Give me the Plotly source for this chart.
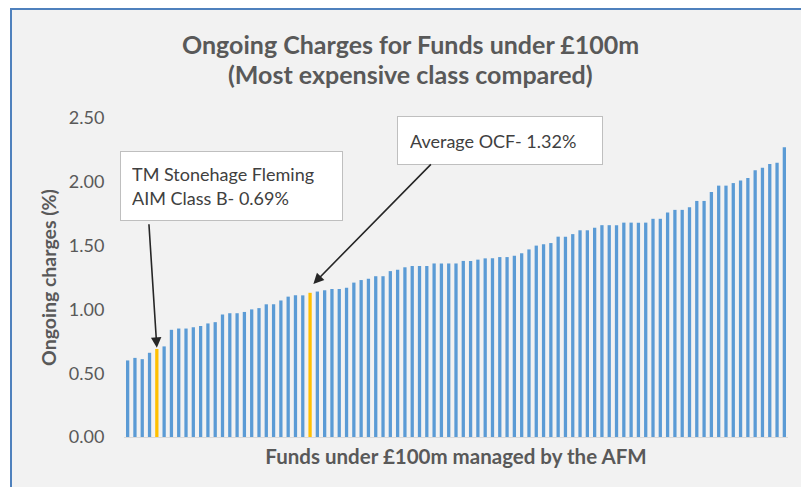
import plotly.graph_objects as go

# ---------------- data ----------------
ongoing_charges = [
    0.60, 0.62, 0.61, 0.66, 0.69, 0.71, 0.84, 0.85, 0.85, 0.86,
    0.87, 0.89, 0.90, 0.96, 0.97, 0.97, 0.98, 1.00, 1.01, 1.04,
    1.04, 1.07, 1.10, 1.11, 1.11, 1.13, 1.14, 1.15, 1.16, 1.16,
    1.17, 1.21, 1.23, 1.24, 1.26, 1.26, 1.30, 1.31, 1.33, 1.34,
    1.34, 1.34, 1.36, 1.36, 1.36, 1.36, 1.38, 1.38, 1.39, 1.40,
    1.40, 1.41, 1.41, 1.42, 1.44, 1.47, 1.50, 1.51, 1.52, 1.57,
    1.57, 1.59, 1.62, 1.62, 1.64, 1.66, 1.66, 1.66, 1.68, 1.68,
    1.68, 1.68, 1.71, 1.71, 1.76, 1.78, 1.78, 1.80, 1.85, 1.85,
    1.92, 1.97, 1.97, 1.99, 2.01, 2.03, 2.09, 2.11, 2.14, 2.15,
    2.27,
]
fund_index = list(range(len(ongoing_charges)))
highlight_tm = 4          # TM Stonehage Fleming AIM Class B
highlight_avg = 25        # bar marked as average
y_ticks = [0.0, 0.5, 1.0, 1.5, 2.0, 2.5]
y_tick_labels = ["0.00", "0.50", "1.00", "1.50", "2.00", "2.50"]

title_line1 = "Ongoing Charges for Funds under £100m"
title_line2 = "(Most expensive class compared)"
x_title = "Funds under £100m managed by the AFM"
y_title = "Ongoing charges (%)"
label_tm = "TM Stonehage Fleming<br>AIM Class B- 0.69%"
label_avg = "Average OCF- 1.32%"

# ---------------- style ----------------
BLUE = "#5B9BD5"
GOLD = "#FFC000"
GREY_TXT = "#595959"
FONT = "Lato"
W, H = 801, 487
ML, MR, MT, MB = 124, 13, 118, 50
PW, PH = W - ML - MR, H - MT - MB


def px_x(p):
    return (p - ML) / PW


def px_y(p):
    return (H - MB - p) / PH


colors = [BLUE] * len(ongoing_charges)
colors[highlight_tm] = GOLD
colors[highlight_avg] = GOLD

fig = go.Figure(
    go.Bar(x=fund_index, y=ongoing_charges, marker=dict(color=colors, line_width=0),
           hoverinfo="y")
)

fig.update_layout(
    width=W, height=H,
    margin=dict(l=ML, r=MR, t=MT, b=MB),
    paper_bgcolor="#f2f2f2",
    plot_bgcolor="#f2f2f2",
    bargap=0.55,
    showlegend=False,
    font=dict(family=FONT, color=GREY_TXT),
)

fig.update_xaxes(
    range=[-0.5, len(ongoing_charges) - 0.5],
    showticklabels=False, ticks="", showgrid=False, zeroline=False,
    showline=True, linecolor="#d9d9d9", linewidth=1,
    title=dict(text="<b>" + x_title + "</b>", font=dict(size=20.5, color=GREY_TXT), standoff=12),
)
fig.update_yaxes(
    range=[0, 2.5], tickvals=y_ticks, ticktext=y_tick_labels,
    showgrid=False, zeroline=False, showline=False,
    ticks="outside", ticklen=15, tickcolor="rgba(0,0,0,0)",
    tickfont=dict(size=18, color=GREY_TXT),
    title=dict(text="<b>" + y_title + "</b>", font=dict(size=19.5, color=GREY_TXT), standoff=6),
)

annotations = [
    dict(xref="paper", yref="paper", x=px_x(410), y=px_y(44), text="<b>" + title_line1 + "</b>",
         showarrow=False, font=dict(size=25, color=GREY_TXT), xanchor="center", yanchor="middle"),
    dict(xref="paper", yref="paper", x=px_x(410), y=px_y(74), text="<b>" + title_line2 + "</b>",
         showarrow=False, font=dict(size=25, color=GREY_TXT), xanchor="center", yanchor="middle"),
    # label boxes
    dict(xref="paper", yref="paper", x=px_x(231.5), y=px_y(186), text=label_tm,
         showarrow=False, align="left", valign="middle", width=199, height=46,
         bgcolor="white", bordercolor="#bfbfbf", borderwidth=1, borderpad=11,
         font=dict(size=18, color="#404040"), xanchor="center", yanchor="middle"),
    dict(xref="paper", yref="paper", x=px_x(500), y=px_y(140.5), text=label_avg,
         showarrow=False, align="left", valign="middle", width=180, height=23,
         bgcolor="white", bordercolor="#bfbfbf", borderwidth=1, borderpad=12,
         font=dict(size=18, color="#404040"), xanchor="center", yanchor="middle"),
    # arrows
    dict(x=highlight_tm, y=ongoing_charges[highlight_tm] + 0.01, xref="x", yref="y",
         text="", showarrow=True, ax=-8, ay=-125, arrowhead=2, arrowsize=1.3,
         arrowwidth=1.6, arrowcolor="#262626"),
    dict(x=highlight_avg + 0.45, y=ongoing_charges[highlight_avg] + 0.07, xref="x", yref="y",
         text="", showarrow=True, ax=119, ay=-121, arrowhead=2, arrowsize=1.3,
         arrowwidth=1.6, arrowcolor="#262626"),
]
fig.update_layout(annotations=annotations)

# screenshot frame: white margin and blue border on top/left
shapes = [
    dict(type="rect", xref="paper", yref="paper", x0=px_x(0), x1=px_x(W), y0=px_y(8), y1=px_y(0),
         fillcolor="white", line_width=0, layer="below"),
    dict(type="rect", xref="paper", yref="paper", x0=px_x(0), x1=px_x(10), y0=px_y(H), y1=px_y(0),
         fillcolor="white", line_width=0, layer="below"),
    dict(type="line", xref="paper", yref="paper", x0=px_x(10), x1=px_x(W), y0=px_y(9), y1=px_y(9),
         line=dict(color="#4f81bd", width=2)),
    dict(type="line", xref="paper", yref="paper", x0=px_x(11), x1=px_x(11), y0=px_y(H), y1=px_y(8),
         line=dict(color="#4f81bd", width=2)),
]
fig.update_layout(shapes=shapes)

fig.write_html(
    "out.html",
    config={"displayModeBar": False},
    post_script="document.body.style.margin='0';document.body.style.overflow='hidden';",
)
